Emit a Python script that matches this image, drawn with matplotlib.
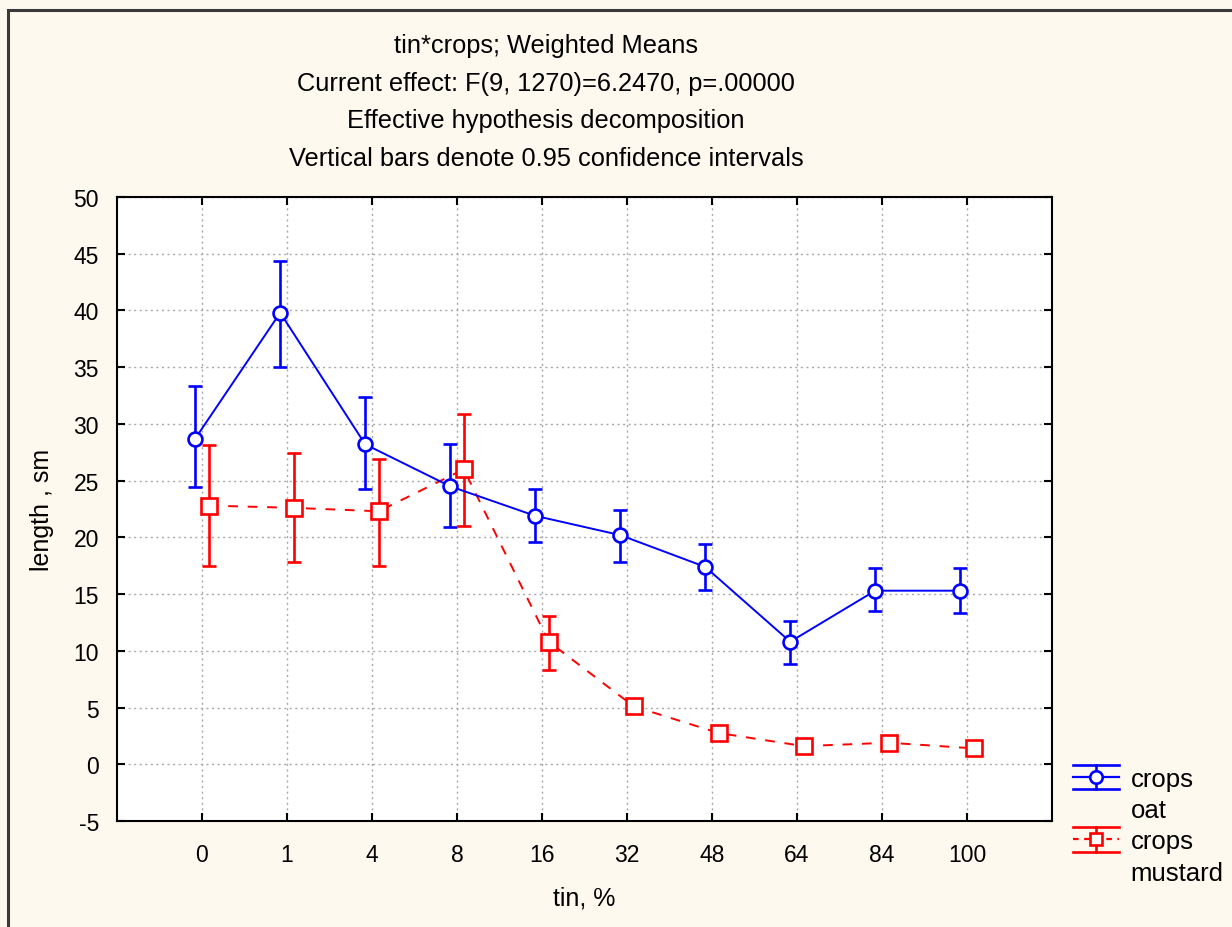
import numpy as np
import matplotlib
matplotlib.use("Agg")
import matplotlib.pyplot as plt
from matplotlib.lines import Line2D
from matplotlib.legend_handler import HandlerBase
from matplotlib.patches import Rectangle

plt.rcParams['font.family'] = ['Liberation Sans', 'DejaVu Sans']
plt.rcParams['axes.unicode_minus'] = False

tin_labels = ["0", "1", "4", "8", "16", "32", "48", "64", "84", "100"]

oat_mean = [28.7, 39.8, 28.2, 24.5, 21.9, 20.2, 17.4, 10.8, 15.3, 15.3]
oat_lo   = [24.4, 35.0, 24.3, 20.9, 19.6, 17.8, 15.4, 8.8, 13.5, 13.3]
oat_hi   = [33.3, 44.4, 32.4, 28.2, 24.3, 22.4, 19.4, 12.6, 17.3, 17.3]

mustard_mean = [22.8, 22.6, 22.3, 26.0, 10.8, 5.1, 2.75, 1.6, 1.9, 1.4]
mustard_lo   = [17.5, 17.8, 17.5, 21.0, 8.3, 4.6, 2.5, 1.4, 1.7, 1.2]
mustard_hi   = [28.1, 27.4, 26.9, 30.9, 13.1, 5.6, 3.0, 1.8, 2.1, 1.6]

title_lines = ["tin*crops; Weighted Means",
               "Current effect: F(9, 1270)=6.2470, p=.00000",
               "Effective hypothesis decomposition",
               "Vertical bars denote 0.95 confidence intervals"]

BG = "#FEF9EE"
BLUE = "#0000FF"
RED = "#FF0000"

fig = plt.figure(figsize=(12.32, 9.28), dpi=100, facecolor=BG)
ax = fig.add_axes([117/1232, 1-822/928, (1052-117)/1232, (822-198)/928])
ax.set_facecolor("white")

x = np.arange(len(tin_labels))
off = 0.08

def err(m, lo, hi):
    m = np.array(m); return [m - np.array(lo), np.array(hi) - m]

ax.errorbar(x - off, oat_mean, yerr=err(oat_mean, oat_lo, oat_hi), color=BLUE,
            lw=1.4, marker='o', ms=10, mfc='white', mec=BLUE, mew=1.9,
            capsize=5, capthick=1.9, elinewidth=1.9, zorder=4)
ax.errorbar(x + off, mustard_mean, yerr=err(mustard_mean, mustard_lo, mustard_hi), color=RED,
            lw=1.4, ls=(0, (5, 5)), marker='s', ms=11, mfc='white', mec=RED, mew=1.9,
            capsize=5, capthick=1.9, elinewidth=1.9, zorder=3)

ax.set_xlim(-1, len(tin_labels))
ax.set_ylim(-5, 50)
ax.set_xticks(x)
ax.set_xticklabels(tin_labels)
ax.set_yticks(np.arange(-5, 51, 5))
ax.tick_params(direction='in', length=6, width=1.5, labelsize=16.5, top=True, right=True,
               colors='black')
ax.tick_params(axis='x', pad=16)
ax.tick_params(axis='y', pad=13)
ax.grid(True, color='#a8a8a8', ls=(0, (1.5, 2.5)), lw=1.0)
for s in ax.spines.values():
    s.set_linewidth(1.5)
ax.set_xlabel("tin, %", fontsize=18, labelpad=14)
ax.set_ylabel("length , sm", fontsize=18, labelpad=14)

for i, t in enumerate(title_lines):
    fig.text(546/1232, 1 - (46 + i*37.5)/928, t, ha='center', va='center', fontsize=18.3)

# outer border
fig.patches.append(Rectangle((8/1232, -0.05), 1.1, 1 - 11/928 + 0.05, transform=fig.transFigure,
                             fill=False, ec='#3a3a3a', lw=2.2))


class ErrHandler(HandlerBase):
    def __init__(self, color, ls, marker, ms):
        super().__init__()
        self.color, self.ls, self.marker, self.ms = color, ls, marker, ms

    def create_artists(self, legend, orig_handle, xdescent, ydescent, width, height, fontsize, trans):
        yc = height / 2 - ydescent
        h = height * 0.68
        x0, x1 = -xdescent, -xdescent + width
        xm = (x0 + x1) / 2
        arts = [
            Line2D([x0, x1], [yc + h, yc + h], color=self.color, lw=1.9),
            Line2D([x0, x1], [yc - h, yc - h], color=self.color, lw=1.9),
            Line2D([x0, x1], [yc, yc], color=self.color, lw=1.6, ls=self.ls),
            Line2D([xm, xm], [yc - h, yc + h], color=self.color, lw=1.9),
            Line2D([xm], [yc], color=self.color, marker=self.marker, ms=self.ms,
                   mfc='white', mec=self.color, mew=1.9, ls='none'),
        ]
        for a in arts:
            a.set_transform(trans)
        return arts


class EmptyHandler(HandlerBase):
    def create_artists(self, legend, orig_handle, xdescent, ydescent, width, height, fontsize, trans):
        a = Line2D([0], [0], visible=False)
        a.set_transform(trans)
        return [a]


h_oat = Line2D([], [], color=BLUE)
h_mus = Line2D([], [], color=RED)
h_e1 = Line2D([], [], alpha=0)
h_e2 = Line2D([], [], alpha=0)
fig.legend([h_oat, h_e1, h_mus, h_e2], ["crops", "oat", "crops", "mustard"],
           handler_map={h_oat: ErrHandler(BLUE, '-', 'o', 9),
                        h_mus: ErrHandler(RED, (0, (2.5, 2.5)), 's', 9),
                        h_e1: EmptyHandler(), h_e2: EmptyHandler()},
           loc='upper left', bbox_to_anchor=(1073/1232, 1 - 768/928), frameon=False,
           fontsize=18.5, handlelength=1.8, handletextpad=0.45, labelspacing=0.28,
           borderpad=0, borderaxespad=0)

fig.savefig("out.png", dpi=100, facecolor=BG)
